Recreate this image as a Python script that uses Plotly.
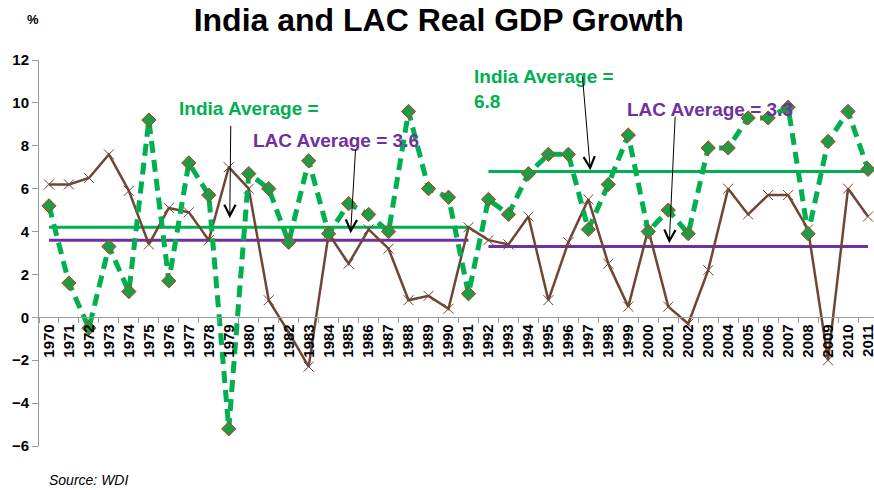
import plotly.graph_objects as go

# data (real GDP growth, %)
years = [str(y) for y in range(1970, 2012)]
india = [5.2, 1.6, -0.5, 3.3, 1.2, 9.2, 1.7, 7.2, 5.7, -5.2,
         6.7, 6.0, 3.5, 7.3, 3.9, 5.3, 4.8, 4.0, 9.6, 6.0,
         5.6, 1.1, 5.5, 4.8, 6.7, 7.6, 7.6, 4.1, 6.2, 8.5,
         4.0, 5.0, 3.9, 7.9, 7.9, 9.3, 9.3, 9.8, 3.9, 8.2,
         9.6, 6.9]
lac = [6.2, 6.2, 6.5, 7.6, 5.9, 3.4, 5.1, 4.9, 3.6, 7.0,
       6.0, 0.8, -0.7, -2.3, 3.9, 2.5, 4.1, 3.2, 0.8, 1.0,
       0.4, 4.2, 3.6, 3.4, 4.7, 0.8, 3.5, 5.5, 2.5, 0.5,
       4.1, 0.5, -0.3, 2.2, 6.0, 4.8, 5.7, 5.7, 4.1, -2.0,
       6.0, 4.7]

# period averages
period1 = ['1970', '1991']
period2 = ['1992', '2011']
india_avg1 = 4.2
lac_avg1 = 3.6
india_avg2 = 6.8
lac_avg2 = 3.3

GREEN = '#00B050'
PURPLE = '#7030A0'
BROWN = '#6F4636'
FONT = 'Liberation Sans, Arial, sans-serif'

fig = go.Figure()

# average lines
fig.add_trace(go.Scatter(x=period1, y=[india_avg1] * 2, mode='lines',
                         line=dict(color=GREEN, width=3), showlegend=False))
fig.add_trace(go.Scatter(x=period1, y=[lac_avg1] * 2, mode='lines',
                         line=dict(color=PURPLE, width=3), showlegend=False))
fig.add_trace(go.Scatter(x=period2, y=[india_avg2] * 2, mode='lines',
                         line=dict(color=GREEN, width=3), showlegend=False))
fig.add_trace(go.Scatter(x=period2, y=[lac_avg2] * 2, mode='lines',
                         line=dict(color=PURPLE, width=3), showlegend=False))

# LAC
fig.add_trace(go.Scatter(
    x=years, y=lac, mode='lines+markers', name='LAC',
    line=dict(color=BROWN, width=2.5),
    marker=dict(symbol='x-thin', size=10, line=dict(color=BROWN, width=1)),
    showlegend=False))

# India
fig.add_trace(go.Scatter(
    x=years, y=india, mode='lines+markers', name='India',
    line=dict(color=GREEN, width=5, dash='12px,7px'),
    marker=dict(symbol='diamond', size=11, color='#1E9B45',
                line=dict(color='#C0391B', width=1)),
    showlegend=False))


def label(text, x, y, color):
    fig.add_annotation(text=text, x=x, y=y, xref='x', yref='y',
                       xanchor='left', yanchor='middle', align='left',
                       showarrow=False,
                       font=dict(family=FONT, size=19, color=color, weight='bold'))


def arrow(x, y, ax, ay):
    fig.add_annotation(text='', x=x, y=y, ax=ax, ay=ay,
                       xref='x', yref='y', axref='x', ayref='y',
                       showarrow=True, arrowhead=5, arrowsize=2.2,
                       arrowwidth=1, arrowcolor='black', standoff=0)


label('India Average =', 6.4, 9.76, GREEN)
label('LAC Average = 3.6', 10.1, 8.26, PURPLE)
label('India Average =<br>6.8', 21.2, 10.67, GREEN)
label('LAC Average = 3.3', 28.85, 9.71, PURPLE)

arrow(9.05, 4.62, 9.1, 9.0)
arrow(15.1, 3.92, 15.35, 7.89)
arrow(27.1, 6.86, 26.7, 11.3)
arrow(31.05, 3.45, 31.35, 9.43)

fig.add_annotation(text='%', x=-0.007, y=1.104, xref='paper', yref='paper',
                   showarrow=False, xanchor='center', yanchor='middle',
                   font=dict(family=FONT, size=13, color='black', weight='bold'))
fig.add_annotation(text='Source: WDI', x=0.0096, y=-0.088, xref='paper', yref='paper',
                   showarrow=False, xanchor='left', yanchor='middle',
                   font=dict(family=FONT, size=14, color='black', style='italic'))

fig.update_layout(
    width=874, height=490,
    margin=dict(l=39, r=0, t=60, b=44, autoexpand=False),
    paper_bgcolor='white', plot_bgcolor='white',
    font=dict(family=FONT, color='black'),
    title=dict(text='India and LAC Real GDP Growth', x=0.502, xanchor='center',
               y=1 - 20 / 490, yanchor='middle', yref='container',
               font=dict(family=FONT, size=32, color='black', weight='bold')),
    xaxis=dict(type='category', categoryorder='array', categoryarray=years,
               range=[-0.5, 41.3], anchor='free', position=6 / 18,
               automargin=False,
               showline=True, linecolor='#999999', linewidth=1,
               ticks='outside', tickson='boundaries', ticklen=5,
               tickcolor='#999999', tickangle=-90, showgrid=False,
               tickfont=dict(family=FONT, size=15, color='black', weight='bold')),
    yaxis=dict(range=[-6, 12], tickvals=list(range(-6, 13, 2)),
               automargin=False,
               showline=True, linecolor='#999999', linewidth=1,
               ticks='outside', ticklen=6, tickcolor='#999999',
               showgrid=False, zeroline=False,
               tickfont=dict(family=FONT, size=15, color='black', weight='bold')),
)

# drop the page's default body margin so the figure sits at the window corner
fig.write_html("out.html", config={'displayModeBar': False},
               post_script="document.body.style.margin = '0';")
